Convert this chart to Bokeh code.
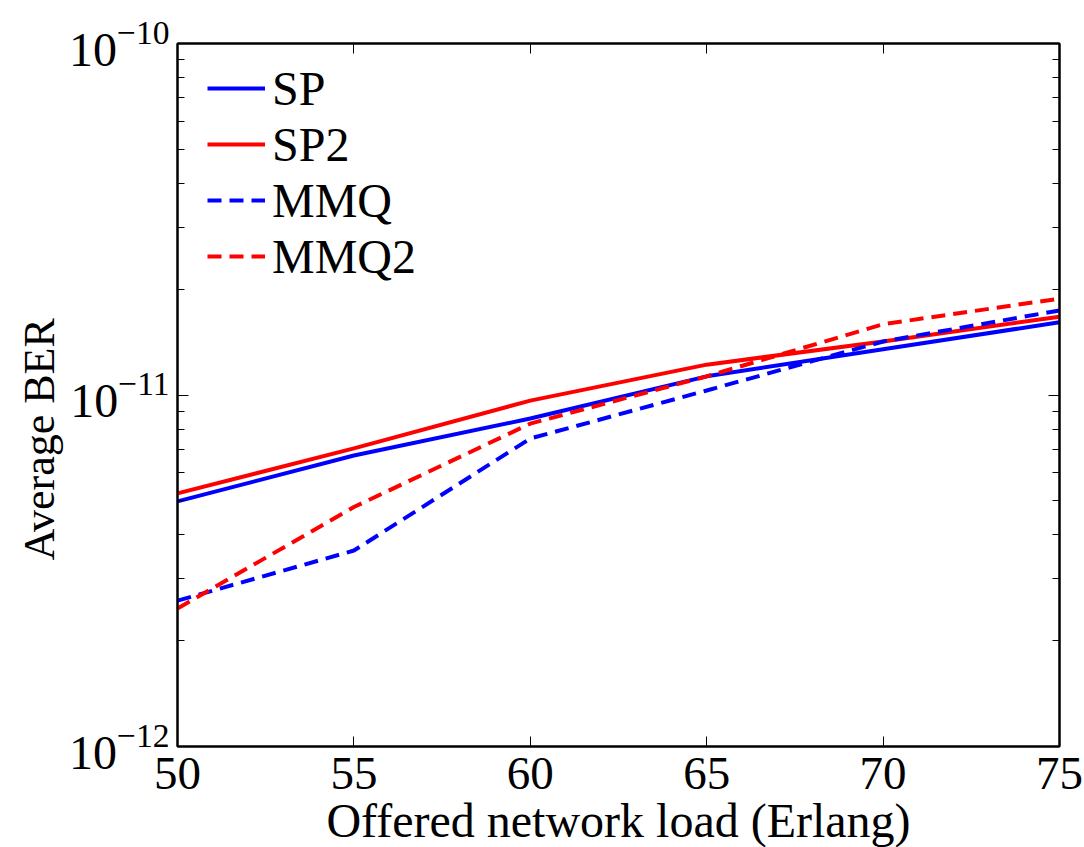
from bokeh.plotting import figure
from bokeh.models import (Range1d, LogAxis, LinearAxis, Legend, LegendItem, Title,
                          CustomJSTickFormatter, FixedTicker, LogTickFormatter)
from bokeh.embed import file_html
from bokeh.resources import INLINE

# ---- data ----
load = [50, 55, 60, 65, 70, 75]
ber_sp = [4.98e-12, 6.73e-12, 8.57e-12, 1.13e-11, 1.35e-11, 1.61e-11]
ber_sp2 = [5.25e-12, 7.05e-12, 9.64e-12, 1.22e-11, 1.42e-11, 1.67e-11]
ber_mmq = [2.60e-12, 3.61e-12, 7.52e-12, 1.03e-11, 1.42e-11, 1.74e-11]
ber_mmq2 = [2.47e-12, 4.80e-12, 8.29e-12, 1.13e-11, 1.59e-11, 1.88e-11]

x_ticks = [50, 55, 60, 65, 70, 75]
y_major = [1e-12, 1e-11, 1e-10]
y_minor = [m * d for d in y_major[:-1] for m in range(2, 10)]
series_names = ["SP", "SP2", "MMQ", "MMQ2"]
x_title = "Offered network load (Erlang)"
y_title = "Average BER"

FONT = "Liberation Serif"
BLUE = "#0000ff"
RED = "#ff0000"

p = figure(width=1084, height=847, output_backend="svg", toolbar_location=None,
           x_range=Range1d(50, 75), y_range=Range1d(1e-12, 1e-10),
           y_axis_type="log", min_border_left=177, min_border_top=43,
           min_border_right=25, min_border_bottom=101)
p.background_fill_color = "white"
p.border_fill_color = "white"
p.grid.visible = False
p.outline_line_color = "black"
p.outline_line_width = 2

empty = CustomJSTickFormatter(code="return ''")

# bottom axis
xa = p.xaxis[0]
xa.ticker = FixedTicker(ticks=x_ticks)
xa.major_tick_in = 10
xa.major_tick_out = 0
xa.minor_tick_in = 0
xa.minor_tick_out = 0
xa.axis_line_width = 2
xa.major_label_text_font = FONT
xa.major_label_text_font_size = "47px"
xa.major_label_text_color = "black"
xa.major_label_standoff = 11

# left axis
ya = p.yaxis[0]
ya.ticker = FixedTicker(ticks=y_major, minor_ticks=y_minor)
ya.formatter = LogTickFormatter()
ya.major_tick_in = 11
ya.major_tick_out = 0
ya.minor_tick_in = 7
ya.minor_tick_out = 0
ya.axis_line_width = 2
ya.major_label_text_font = FONT
ya.major_label_text_font_size = "48px"
ya.major_label_text_color = "black"
ya.major_label_standoff = 8

# top & right axes (ticks only)
ta = LinearAxis(ticker=FixedTicker(ticks=x_ticks), formatter=empty,
                major_tick_in=10, major_tick_out=0, minor_tick_in=0, minor_tick_out=0,
                axis_line_width=2)
p.add_layout(ta, "above")
ra = LogAxis(ticker=FixedTicker(ticks=y_major, minor_ticks=y_minor), formatter=empty,
             major_tick_in=11, major_tick_out=0, minor_tick_in=7, minor_tick_out=0,
             axis_line_width=2)
p.add_layout(ra, "right")

# lines
r1 = p.line(load, ber_sp, line_color=BLUE, line_width=4)
r2 = p.line(load, ber_sp2, line_color=RED, line_width=4)
r3 = p.line(load, ber_mmq, line_color=BLUE, line_width=4, line_dash="14 8")
r4 = p.line(load, ber_mmq2, line_color=RED, line_width=4, line_dash="14 8")

legend = Legend(items=[LegendItem(label=n, renderers=[r]) for n, r in
                       zip(series_names, [r1, r2, r3, r4])],
                location=(30, 462), padding=0, margin=0, spacing=0,
                glyph_width=58, glyph_height=56, label_height=56, label_standoff=7,
                label_text_font=FONT, label_text_font_size="48px",
                label_text_color="black",
                border_line_color=None, background_fill_alpha=0)
p.add_layout(legend, "center")

# axis titles
p.add_layout(Title(text=y_title, align="left", offset=186, standoff=4,
                   text_font=FONT, text_font_size="44px", text_font_style="normal",
                   text_color="black"), "left")
p.add_layout(Title(text=x_title, align="center", standoff=0,
                   text_font=FONT, text_font_size="48px", text_font_style="normal",
                   text_color="black"), "below")

open("out.html", "w").write(file_html(p, INLINE))
